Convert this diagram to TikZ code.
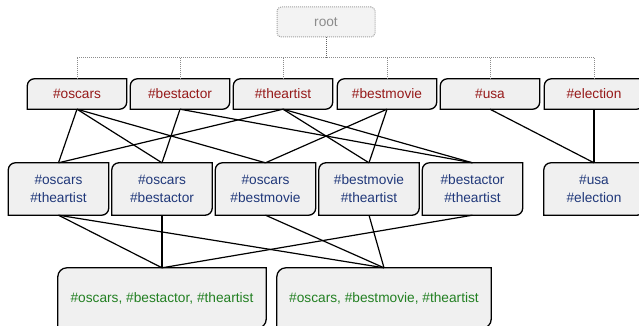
\documentclass[tikz,border=0pt]{standalone}
\usepackage{fontspec}
\setmainfont{Liberation Sans}
\usetikzlibrary{backgrounds}

\definecolor{tagred}{RGB}{150,25,25}
\definecolor{tagblue}{RGB}{32,56,122}
\definecolor{taggreen}{RGB}{34,128,34}
\definecolor{cardfill}{RGB}{240,240,240}
\definecolor{rootgray}{RGB}{140,140,140}

\tikzset{
  card/.style={inner sep=0pt, align=center,
    font=\fontsize{13.7}{18}\selectfont},
  single/.style={card, minimum width=99pt, minimum height=30pt, text=tagred},
  pair/.style={card, minimum width=100pt, minimum height=52pt, text=tagblue},
  triple/.style={card, minimum height=60pt, text=taggreen},
  rootbox/.style={card, minimum width=98pt, minimum height=30pt, text=rootgray,
    draw=rootgray!80, fill=cardfill!80!white, rounded corners=4pt,
    dash pattern=on 1pt off 1pt, line width=1pt},
  cardline/.style={draw=black, fill=cardfill, line width=1.3pt},
  link/.style={draw=black, line width=1.2pt},
  bus/.style={draw=rootgray, dash pattern=on 1pt off 1pt, line width=1pt},
}

% Card outline: rounded top-left and bottom-right corners, square otherwise
\newcommand{\cardoutline}[2]{%
  \filldraw[cardline] (#1.north east) -- ([yshift=#2]#1.south east)
    arc[start angle=0, end angle=-90, radius=#2] -- (#1.south west)
    -- ([yshift=-#2]#1.north west)
    arc[start angle=180, end angle=90, radius=#2] -- cycle;}

\begin{document}
\begin{tikzpicture}[x=1pt, y=-1pt]
  \useasboundingbox (0,0) rectangle (639,326);

  % root
  \node[rootbox] (root) at (326,22) {root};

  % single hashtags
  \node[single] (oscars)    at (77,94)  {\#oscars};
  \node[single] (bestactor) at (180,94) {\#bestactor};
  \node[single] (theartist) at (283,94) {\#theartist};
  \node[single] (bestmovie) at (387,94) {\#bestmovie};
  \node[single] (usa)       at (490,94) {\#usa};
  \node[single] (election)  at (594,94) {\#election};

  % pairs
  \node[pair] (ot) at (58.5,189)  {\#oscars\\\#theartist};
  \node[pair] (ob) at (162,189)   {\#oscars\\\#bestactor};
  \node[pair] (om) at (265.5,189) {\#oscars\\\#bestmovie};
  \node[pair] (mt) at (369,189)   {\#bestmovie\\\#theartist};
  \node[pair] (bt) at (472.5,189) {\#bestactor\\\#theartist};
  \node[pair] (ue) at (594,189)   {\#usa\\\#election};

  % triples
  \node[triple, minimum width=208pt] (obt) at (162,298) {\#oscars, \#bestactor, \#theartist};
  \node[triple, minimum width=214pt] (omt) at (384,298) {\#oscars, \#bestmovie, \#theartist};

  % card outlines behind the labels
  \begin{scope}[on background layer]
    \foreach \n in {oscars,bestactor,theartist,bestmovie,usa,election,ot,ob,om,mt,bt,ue}
      {\cardoutline{\n}{7pt}}
    \foreach \n in {obt,omt}
      {\cardoutline{\n}{9pt}}
  \end{scope}

  % dotted bus from root to the single hashtags
  \coordinate (busmid) at (326,58);
  \draw[bus, draw=rootgray!70!black] (root.south) -- (busmid);
  \draw[bus] (oscars.north |- busmid) -- (election.north |- busmid);
  \foreach \n in {oscars,bestactor,theartist,bestmovie,usa,election}
    \draw[bus] (\n.north |- busmid) -- (\n.north);

  % singles to pairs
  \foreach \a/\b in {oscars/ot, oscars/ob, oscars/om,
                     bestactor/ob, bestactor/bt,
                     theartist/ot, theartist/mt, theartist/bt,
                     bestmovie/om, bestmovie/mt,
                     usa/ue, election/ue}
    \draw[link] (\a.south) -- (\b.north);

  % pairs to triples
  \foreach \a/\b in {ot/obt, ob/obt, bt/obt, ot/omt, om/omt, mt/omt}
    \draw[link] (\a.south) -- (\b.north);
\end{tikzpicture}
\end{document}
